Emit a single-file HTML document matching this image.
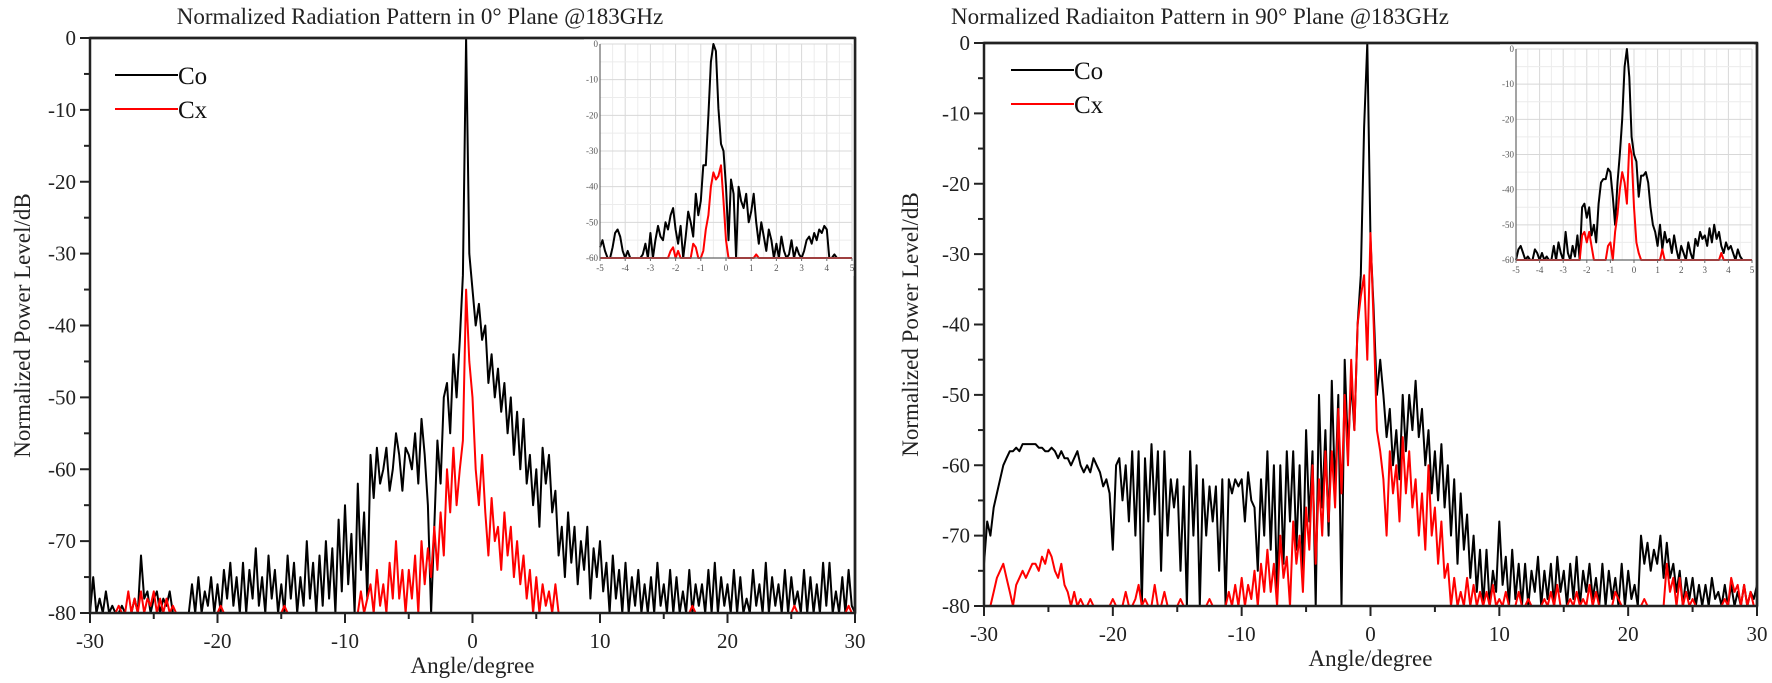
<!DOCTYPE html>
<html><head><meta charset="utf-8"><style>
body{margin:0;background:#fff;}
svg{display:block;font-family:"Liberation Serif",serif;}
</style></head><body>
<svg id="fig" width="1772" height="683" viewBox="0 0 1772 683" xmlns="http://www.w3.org/2000/svg"></svg>
<script>
// ---- data: main plots, angle -30..30 step 0.25 ----
const mainStart = -30, mainStep = 0.25;
const leftCo = [
-80,-75,-80,-78, -80,-77,-80,-79, -80,-80,-79,-80, -80,-80,-78,-80, -72,-78,-77,-80, -78,-77,-80,-78, -79,-77,-80,-80, -80,-80,-80,-80,
-76,-80,-75,-80, -77,-79,-75,-80, -76,-80,-74,-78, -73,-79,-75,-80, -73,-80,-74,-78, -71,-79,-75,-80, -72,-78,-74,-80, -76,-80,-72,-78,
-73,-80,-75,-79, -70,-78,-73,-80, -72,-79,-70,-78, -71,-80,-67,-77, -65,-76,-69,-80, -62,-74,-66,-78, -58,-64,-57,-62, -60,-57,-63,-60,
-55,-58,-63,-57, -58,-60,-55,-62, -53,-58,-65,-80, -68,-56,-62,-50, -48,-55,-44,-50, -42,-33,0,-30,
-35,-40,-37,-42, -40,-48,-44,-50, -46,-52,-48,-55, -50,-58,-52,-60, -53,-62,-58,-65, -60,-68,-57,-62, -58,-66,-63,-72, -68,-75,-66,-73,
-68,-76,-70,-74, -68,-78,-71,-75, -70,-77,-73,-80, -72,-78,-74,-80, -73,-80,-75,-79, -74,-80,-76,-80, -75,-80,-73,-79, -76,-80,-74,-80,
-75,-80,-77,-80, -74,-80,-76,-79, -76,-80,-74,-80, -73,-80,-75,-79, -76,-80,-74,-80, -75,-80,-78,-80, -74,-79,-76,-80, -73,-80,-75,-79,
-76,-80,-74,-80, -75,-79,-77,-80, -74,-80,-75,-80, -76,-80,-73,-79, -73,-80,-77,-80, -75,-80,-74,-79, -80];
const leftCx = [
-80,-80,-80,-80, -80,-80,-80,-80, -80,-79,-80,-80, -77,-80,-78,-80, -77,-80,-78,-79, -77,-80,-78,-80, -78,-80,-79,-80, -80,-80,-80,-80,
-80,-80,-80,-80, -80,-80,-80,-80, -80,-79,-80,-80, -80,-80,-80,-80, -80,-80,-80,-80, -80,-80,-80,-80, -80,-80,-80,-80, -80,-79,-80,-80,
-80,-80,-80,-80, -80,-80,-80,-80, -80,-80,-80,-80, -80,-80,-80,-80, -80,-80,-80,-80, -80,-77,-80,-78, -76,-80,-74,-79, -76,-80,-73,-78,
-70,-78,-74,-80, -74,-78,-72,-80, -70,-76,-71,-75, -68,-74,-66,-72, -60,-66,-57,-65, -60,-56,-35,-45,
-50,-60,-65,-58, -66,-72,-64,-70, -68,-74,-66,-72, -68,-75,-70,-76, -72,-78,-74,-80, -75,-80,-76,-79, -77,-80,-76,-80, -80,-80,-80,-80,
-80,-80,-80,-80, -80,-80,-80,-80, -80,-80,-80,-80, -80,-80,-80,-80, -80,-80,-80,-80, -80,-80,-80,-80, -80,-80,-80,-80, -80,-80,-80,-80,
-80,-80,-80,-80, -80,-79,-80,-80, -80,-80,-80,-80, -80,-80,-80,-80, -80,-80,-80,-80, -80,-80,-80,-80, -80,-80,-80,-80, -80,-80,-80,-80,
-80,-80,-80,-80, -80,-79,-80,-80, -80,-80,-80,-80, -80,-80,-80,-80, -80,-80,-80,-80, -80,-80,-79,-80, -80];
const rightCo = [
-74,-68,-70,-66, -64,-62,-60,-59, -58,-58,-57.5,-58, -57,-57,-57,-57, -57,-57.5,-57.5,-58, -58,-57.5,-58,-59, -58,-59,-59,-60, -59,-58,-60,-61,
-60,-61,-59,-60, -61,-63,-62,-64, -72,-60,-59,-65, -60,-68,-58,-70, -58,-80,-59,-68, -57,-67,-58,-75, -58,-70,-62,-66, -62,-75,-63,-80,
-58,-70,-60,-80, -62,-70,-63,-68, -63,-75,-62,-80, -62,-64,-62,-63, -62,-68,-61,-65, -66,-75,-62,-70, -58,-72,-60,-78, -60,-74,-58,-68,
-58,-72,-60,-75, -55,-68,-58,-80, -50,-66,-55,-70, -48,-64,-50,-80, -45,-58,-48,-55, -40,-33,-12,0,
-28,-38,-50,-45, -50,-56,-52,-60, -55,-62,-50,-58, -50,-55,-48,-56, -52,-60,-55,-64, -58,-65,-57,-66, -60,-70,-62,-74, -64,-72,-67,-76,
-70,-78,-72,-80, -72,-80,-75,-78, -68,-77,-73,-80, -72,-79,-74,-80, -74,-80,-75,-78, -73,-80,-75,-79, -74,-80,-73,-78, -75,-80,-74,-79,
-73,-80,-75,-78, -74,-79,-76,-80, -74,-80,-75,-79, -76,-80,-74,-80, -75,-79,-77,-80, -70,-74,-71,-75, -72,-74,-70,-76, -71,-76,-74,-78,
-75,-80,-76,-79, -76,-80,-77,-80, -77,-80,-76,-79, -78,-80,-77,-80, -77,-80,-78,-80, -77,-80,-78,-79, -77];
const rightCx = [
-80,-80,-80,-78, -76,-75,-74,-76, -78,-80,-77,-76, -75,-76,-75,-74, -74,-75,-73,-74, -72,-73,-75,-76, -74,-77,-78,-80, -78,-80,-79,-80,
-80,-79,-80,-80, -80,-80,-80,-80, -79,-80,-80,-80, -78,-80,-80,-79, -77,-80,-79,-80, -80,-77,-80,-80, -78,-80,-80,-80, -80,-79,-80,-80,
-80,-80,-80,-80, -80,-80,-79,-80, -80,-80,-80,-80, -78,-80,-77,-80, -76,-80,-77,-79, -75,-80,-74,-78, -72,-78,-74,-80, -70,-76,-73,-80,
-68,-74,-70,-78, -66,-72,-60,-74, -62,-70,-58,-68, -58,-66,-52,-64, -50,-60,-45,-55, -40,-36,-33,-45,
-27,-40,-55,-58, -62,-70,-58,-64, -60,-68,-56,-64, -58,-66,-62,-70, -64,-72,-60,-70, -66,-74,-68,-76, -74,-80,-76,-80, -78,-80,-76,-80,
-77,-80,-78,-80, -78,-80,-77,-80, -79,-80,-78,-80, -80,-80,-78,-80, -80,-79,-80,-80, -80,-80,-79,-80, -78,-80,-77,-80, -80,-80,-79,-80,
-78,-80,-79,-80, -77,-80,-78,-80, -80,-80,-80,-80, -78,-79,-80,-80, -80,-80,-80,-80, -80,-79,-80,-80, -80,-80,-80,-80, -74,-78,-76,-80,
-76,-80,-78,-80, -79,-80,-80,-80, -80,-80,-80,-80, -80,-80,-79,-80, -76,-78,-77,-80, -77,-80,-78,-80, -80];
// ---- data: insets, angle -5..5 step 0.1 ----
const insetStart = -5, insetStep = 0.1;
const leftInsetCo = [
-57,-55,-58,-60,-60,-57,-53,-52,-54,-58, -60,-58,-60,-60,-60,-60,-60,-59,-56,-60,
-53,-60,-55,-51,-54,-55,-50,-52,-48,-46, -52,-56,-51,-60,-54,-47,-50,-54,-42,-48,
-44,-34,-34,-20,-5,0,-2,-18,-28,-30, -40,-55,-38,-42,-60,-40,-44,-46,-42,-50,
-47,-42,-50,-56,-50,-54,-58,-52,-55,-60, -56,-60,-54,-58,-60,-59,-55,-60,-57,-59,
-60,-58,-55,-54,-56,-53,-55,-52,-53,-51, -52,-60,-60,-59,-60,-60,-60,-60,-60,-60, -60];
const leftInsetCx = [
-60,-60,-60,-60,-60,-60,-60,-60,-60,-60, -60,-60,-60,-60,-60,-60,-60,-60,-60,-60,
-60,-60,-60,-60,-60,-60,-60,-60,-58,-57, -60,-58,-60,-60,-60,-60,-60,-56,-57,-60,
-60,-58,-52,-48,-40,-36,-38,-37,-34,-44, -55,-60,-60,-60,-60,-60,-60,-60,-60,-60,
-60,-60,-59,-60,-60,-60,-60,-60,-60,-60, -60,-60,-60,-60,-60,-60,-60,-60,-60,-60,
-60,-60,-60,-60,-60,-60,-60,-60,-60,-60, -60,-60,-60,-60,-60,-60,-60,-60,-60,-60, -60];
const rightInsetCo = [
-60,-57,-56,-58,-60,-59,-60,-60,-57,-58, -60,-58,-60,-59,-60,-60,-56,-60,-55,-58,
-60,-52,-58,-60,-56,-59,-53,-60,-45,-44, -48,-45,-53,-50,-55,-44,-38,-37,-37,-34,
-35,-42,-50,-38,-30,-20,-5,0,-8,-25, -30,-32,-42,-36,-36,-35,-38,-45,-50,-52,
-56,-50,-57,-52,-55,-54,-58,-53,-57,-60, -56,-58,-60,-55,-58,-60,-54,-56,-52,-54,
-53,-56,-51,-55,-50,-54,-52,-56,-58,-55, -57,-56,-58,-60,-57,-59,-60,-60,-60,-60, -60];
const rightInsetCx = [
-60,-60,-60,-60,-60,-60,-60,-60,-60,-60, -60,-60,-60,-60,-60,-60,-60,-60,-60,-60,
-60,-60,-60,-60,-60,-60,-60,-60,-53,-52, -55,-52,-56,-60,-60,-60,-60,-60,-60,-56,
-55,-60,-52,-47,-40,-35,-38,-44,-27,-30, -45,-55,-58,-60,-60,-60,-60,-60,-60,-60,
-60,-60,-57,-60,-60,-60,-60,-60,-60,-60, -60,-60,-60,-60,-60,-60,-60,-60,-60,-60,
-60,-60,-60,-60,-60,-60,-60,-58,-60,-60, -60,-60,-60,-60,-60,-60,-60,-60,-60,-60, -60];
const mainXTicks = [-30,-20,-10,0,10,20,30];
const mainYTicks = [0,-10,-20,-30,-40,-50,-60,-70,-80];
const insetXTicks = [-5,-4,-3,-2,-1,0,1,2,3,4,5];
const insetYTicks = [0,-10,-20,-30,-40,-50,-60];

const NS = "http://www.w3.org/2000/svg";
const svg = document.getElementById('fig');
function mk(tag, attrs, parent) {
  const e = document.createElementNS(NS, tag);
  for (const k in attrs) e.setAttribute(k, attrs[k]);
  (parent || svg).appendChild(e);
  return e;
}
function txt(str, attrs, parent) { const t = mk('text', attrs, parent); t.textContent = str; return t; }

function axisFns(x0, x1, y0, y1, xmin, xmax, ymin, ymax) {
  return {
    sx: v => x0 + (v - xmin) / (xmax - xmin) * (x1 - x0),
    sy: v => y0 + (ymax - v) / (ymax - ymin) * (y1 - y0)
  };
}
function series(vals, start, step, fx, lo, color, w, parent, name) {
  const pts = vals.map((v, i) => fx.sx(start + i * step).toFixed(1) + ',' + fx.sy(Math.max(lo, v)).toFixed(1)).join(' ');
  const p = mk('polyline', {points: pts, fill: 'none', stroke: color, 'stroke-width': w, 'stroke-linejoin': 'round'}, parent);
  
  
}

function panel(cfg) {
  const g = mk('g', {});
  
  
  const f = axisFns(cfg.x0, cfg.x1, cfg.y0, cfg.y1, -30, 30, -80, 0);
  series(cfg.co, mainStart, mainStep, f, -80, '#000', 2, g, 'co-polar-line');
  series(cfg.cx, mainStart, mainStep, f, -80, '#ff0000', 2, g, 'cross-polar-line');
  const fr = mk('rect', {x: cfg.x0, y: cfg.y0, width: cfg.x1 - cfg.x0, height: cfg.y1 - cfg.y0, fill: 'none', stroke: '#222', 'stroke-width': 2.5}, g);
  
  
  for (let v = -30; v <= 30; v += 5) {
    const major = mainXTicks.includes(v);
    const tk = mk('line', {x1: f.sx(v), x2: f.sx(v), y1: cfg.y1, y2: cfg.y1 + (major ? 10 : 6), stroke: '#222', 'stroke-width': 2}, g);
    
    
  }
  mainXTicks.forEach(v => {
    const t = txt(String(v), {x: f.sx(v), y: cfg.y1 + 35, 'font-size': 21, 'text-anchor': 'middle', fill: '#222'}, g);
    
    
  });
  for (let v = 0; v >= -80; v -= 5) {
    const major = mainYTicks.includes(v);
    const tk = mk('line', {x1: cfg.x0 - (major ? 10 : 6), x2: cfg.x0, y1: f.sy(v), y2: f.sy(v), stroke: '#222', 'stroke-width': 2}, g);
    
    
  }
  mainYTicks.forEach(v => {
    const t = txt(String(v), {x: cfg.x0 - 14, y: f.sy(v) + 7, 'font-size': 21, 'text-anchor': 'end', fill: '#222'}, g);
    
    
  });
  const xt = txt('Angle/degree', {x: (cfg.x0 + cfg.x1) / 2, y: cfg.y1 + 60, 'font-size': 23, 'text-anchor': 'middle', fill: '#222'}, g);
  
  
  const yc = (cfg.y0 + cfg.y1) / 2;
  const yt = txt('Normalized Power Level/dB', {x: cfg.ytx, y: yc, 'font-size': 23, 'text-anchor': 'middle', fill: '#222', transform: `rotate(-90 ${cfg.ytx} ${yc})`}, g);
  
  
  const tt = txt(cfg.title, {x: cfg.tx, y: 24, 'font-size': 23, 'text-anchor': 'middle', fill: '#222'}, g);
  
  
  [['Co', '#000', cfg.ly], ['Cx', '#ff0000', cfg.ly + 34]].forEach(([lab, col, ly]) => {
    const le = mk('g', {}, g);
    
    
    mk('line', {x1: cfg.lx, x2: cfg.lx + 63, y1: ly, y2: ly, stroke: col, 'stroke-width': 2}, le);
    txt(lab, {x: cfg.lx + 63, y: ly + 9, 'font-size': 25, fill: '#111'}, le);
  });
  const ig = mk('g', {}, g);
  
  
  const I = cfg.inset;
  mk('rect', {x: I.x0 - 16, y: I.y0 - 6, width: I.x1 - I.x0 + 18, height: I.y1 - I.y0 + 24, fill: '#fff'}, ig);
  const fi = axisFns(I.x0, I.x1, I.y0, I.y1, -5, 5, -60, 0);
  for (let v = -5; v <= 5.001; v += 0.5) {
    const gl = mk('line', {x1: fi.sx(v), x2: fi.sx(v), y1: I.y0, y2: I.y1, stroke: Math.abs(v % 1) < 0.01 ? '#d8d8d8' : '#ececec', 'stroke-width': 1}, ig);
    
    
  }
  for (let v = 0; v >= -60; v -= 5) {
    const gl = mk('line', {x1: I.x0, x2: I.x1, y1: fi.sy(v), y2: fi.sy(v), stroke: v % 10 === 0 ? '#d8d8d8' : '#ececec', 'stroke-width': 1}, ig);
    
    
  }
  series(cfg.ico, insetStart, insetStep, fi, -60, '#000', 2, ig, 'inset-co-line');
  series(cfg.icx, insetStart, insetStep, fi, -60, '#ff0000', 2, ig, 'inset-cx-line');
  mk('line', {x1: I.x0, x2: I.x0, y1: I.y0, y2: I.y1, stroke: '#666', 'stroke-width': 1.2}, ig);
  mk('line', {x1: I.x0, x2: I.x1, y1: I.y1, y2: I.y1, stroke: '#666', 'stroke-width': 1.2}, ig);
  insetXTicks.forEach(v => {
    mk('line', {x1: fi.sx(v), x2: fi.sx(v), y1: I.y1, y2: I.y1 + 3, stroke: '#666'}, ig);
    const t = txt(String(v), {x: fi.sx(v), y: I.y1 + 13, 'font-size': 9, 'text-anchor': 'middle', fill: '#555'}, ig);
    
    
  });
  insetYTicks.forEach(v => {
    const t = txt(String(v), {x: I.x0 - 2, y: fi.sy(v) + 3, 'font-size': 9, 'text-anchor': 'end', fill: '#555'}, ig);
    
    
  });
  mk('line', {x1: cfg.x0, x2: cfg.x1, y1: cfg.y0, y2: cfg.y0, stroke: '#222', 'stroke-width': 2.5}, g);
  mk('line', {x1: cfg.x1, x2: cfg.x1, y1: cfg.y0, y2: cfg.y1, stroke: '#222', 'stroke-width': 2.5}, g);
}

panel({name: 'left-panel-0deg', x0: 90, x1: 855, y0: 38, y1: 613, ytx: 30, tx: 420, lx: 115, ly: 75,
  title: 'Normalized Radiation Pattern in 0° Plane @183GHz', co: leftCo, cx: leftCx,
  inset: {x0: 600, x1: 852, y0: 44, y1: 258}, ico: leftInsetCo, icx: leftInsetCx});
panel({name: 'right-panel-90deg', x0: 984, x1: 1757, y0: 43, y1: 606, ytx: 918, tx: 1200, lx: 1011, ly: 70,
  title: 'Normalized Radiaiton Pattern in 90° Plane @183GHz', co: rightCo, cx: rightCx,
  inset: {x0: 1516, x1: 1752, y0: 49, y1: 260}, ico: rightInsetCo, icx: rightInsetCx});
</script>
</body></html>
